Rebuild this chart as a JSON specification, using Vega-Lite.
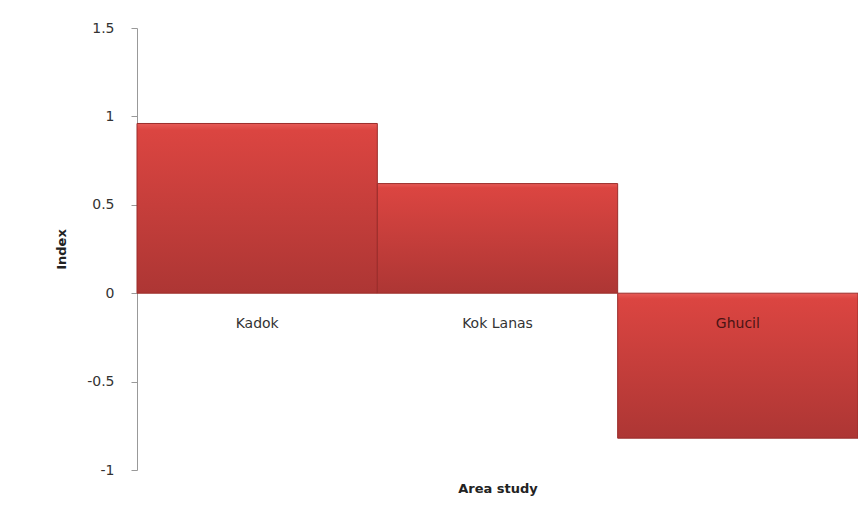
{
  "$schema": "https://vega.github.io/schema/vega-lite/v6.json",
  "width": 721,
  "height": 442,
  "autosize": {"type": "none"},
  "padding": {"left": 137, "top": 28, "right": 0, "bottom": 44},
  "background": "white",
  "config": {
    "view": {"stroke": null},
    "font": "DejaVu Sans"
  },
  "data": {
    "values": [
      {"area": "Kadok", "index": 0.96},
      {"area": "Kok Lanas", "index": 0.62},
      {"area": "Ghucil", "index": -0.82}
    ]
  },
  "encoding": {
    "x": {
      "field": "area",
      "type": "nominal",
      "sort": ["Kadok", "Kok Lanas", "Ghucil"],
      "scale": {"paddingInner": 0, "paddingOuter": 0},
      "axis": {
        "title": "Area study",
        "labels": false,
        "ticks": false,
        "domain": false,
        "titleFont": "DejaVu Sans",
        "titleFontSize": 13,
        "titleFontWeight": "bold",
        "titleColor": "#222",
        "titlePadding": 12
      }
    }
  },
  "layer": [
    {
      "mark": {
        "type": "bar",
        "color": {
          "gradient": "linear",
          "x1": 0, "y1": 0, "x2": 0, "y2": 1,
          "stops": [
            {"offset": 0, "color": "#e65a56"},
            {"offset": 0.04, "color": "#db4541"},
            {"offset": 1, "color": "#ad3634"}
          ]
        },
        "stroke": "#9b2d2b",
        "strokeWidth": 1
      },
      "encoding": {
        "y": {
          "field": "index",
          "type": "quantitative",
          "scale": {"domain": [-1, 1.5], "nice": false, "zero": false},
          "axis": {
            "title": "Index",
            "values": [-1, -0.5, 0, 0.5, 1, 1.5],
            "labelExpr": "'' + datum.value",
            "grid": false,
            "domainColor": "#999",
            "tickColor": "#999",
            "tickSize": 6,
            "labelFontSize": 14,
            "labelColor": "#333",
            "labelPadding": 17,
            "titleFontSize": 13,
            "titleFontWeight": "bold",
            "titleColor": "#222",
            "titlePadding": 18
          }
        }
      }
    },
    {
      "mark": {"type": "text", "dy": 31, "fontSize": 14, "baseline": "middle"},
      "encoding": {
        "y": {"datum": 0, "type": "quantitative"},
        "text": {"field": "area"},
        "color": {
          "condition": {"test": "datum.index < 0", "value": "#4a1414"},
          "value": "#333333"
        }
      }
    }
  ]
}
